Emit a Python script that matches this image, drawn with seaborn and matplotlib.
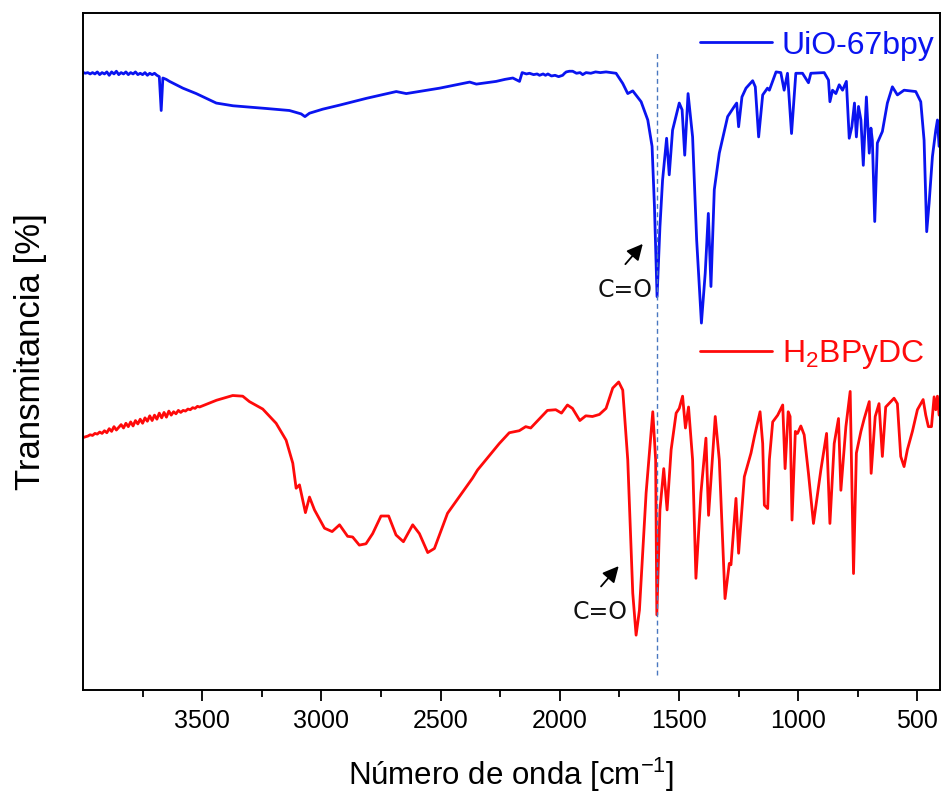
import matplotlib
matplotlib.use("Agg")
import matplotlib.pyplot as plt
import seaborn as sns
import pandas as pd

# FTIR spectra (wavenumber in cm-1, transmittance in arbitrary %)
uio_wn = [3998, 3990, 3980, 3970, 3960, 3950, 3940, 3930, 3920, 3910, 3900, 3890, 3880, 3870,
          3860, 3850, 3840, 3830, 3820, 3810, 3800, 3790, 3780, 3770, 3760, 3750, 3740, 3730,
          3720, 3710, 3700, 3690, 3680, 3672, 3665, 3651, 3637, 3581, 3525,
          3441, 3371, 3232, 3134, 3085, 3069, 3050, 2994, 2923, 2811, 2686, 2644, 2504, 2378,
          2350, 2267, 2230, 2197, 2175, 2169, 2158, 2140, 2127, 2110, 2095, 2085, 2070, 2060,
          2050, 2035, 2020, 2005, 1988, 1980, 1973, 1960, 1946, 1930, 1915, 1904, 1890, 1870,
          1850, 1830, 1806, 1785, 1764, 1736, 1715, 1694, 1659, 1631, 1613, 1603, 1592, 1580, 1569,
          1552, 1541, 1527, 1499, 1487, 1476, 1462, 1443, 1426, 1406, 1390, 1377, 1366, 1352,
          1331, 1296, 1268, 1258, 1250, 1236, 1219, 1191, 1180, 1166, 1149, 1129, 1121, 1093,
          1073, 1059, 1045, 1028, 1010, 982, 957, 947, 891, 873, 867, 856, 842, 828, 814, 798,
          786, 775, 764, 756, 747, 737, 727, 714, 702, 695, 689, 679, 668, 647, 626, 605, 584,
          556, 507, 486, 472, 461, 451, 437, 423, 416, 409]
uio_t = [91.2, 91.1, 91.2, 91.0, 91.2, 91.0, 91.3, 90.9, 91.2, 91.0, 91.3, 90.8, 91.3, 91.0,
         91.4, 90.9, 91.2, 91.0, 91.3, 90.9, 91.2, 91.0, 91.3, 90.9, 91.1, 90.9, 91.2, 90.8,
         91.1, 90.9, 91.1, 90.8, 90.6, 85.6, 90.4, 90.2, 89.9, 88.9, 88.1,
         86.7, 86.3, 85.9, 85.6, 85.1, 84.7, 85.2, 85.8, 86.4, 87.4, 88.4, 88.1, 88.9, 89.8,
         89.5, 89.9, 90.2, 90.4, 90.0, 89.9, 91.2, 91.0, 91.1, 90.9, 91.0, 90.8, 91.0, 90.8,
         91.0, 90.7, 90.8, 90.6, 90.8, 91.1, 91.3, 91.4, 91.4, 91.1, 91.2, 90.9, 91.2, 91.1,
         91.3, 91.2, 91.3, 91.2, 91.1, 89.6, 88.1, 88.5, 86.9, 84.2, 80.3, 71.4, 58.1, 68.4, 75.3,
         81.5, 76.1, 82.7, 86.7, 85.7, 79.0, 88.1, 81.7, 66.5, 54.2, 61.6, 70.4, 59.6, 73.9,
         79.3, 84.7, 86.2, 86.7, 83.2, 87.6, 88.9, 90.0, 89.1, 81.7, 87.9, 88.9, 88.6, 91.3,
         91.2, 88.6, 91.1, 82.2, 91.1, 91.1, 89.7, 91.1, 91.2, 90.1, 86.9, 88.6, 88.1, 89.4, 88.6, 89.9,
         81.5, 83.2, 86.7, 81.7, 86.2, 84.2, 77.5, 87.6, 79.3, 83.0, 81.2, 69.2, 80.8, 82.5, 86.7, 89.1, 87.9,
         88.6, 88.4, 86.9, 81.2, 67.7, 71.9, 78.8, 82.7, 84.2, 80.3]

h2_wn = [3998, 3990, 3980, 3970, 3960, 3950, 3940, 3930, 3920, 3910, 3900, 3890, 3880, 3870,
         3860, 3850, 3840, 3830, 3820, 3810, 3800, 3790, 3780, 3770, 3760, 3750, 3740, 3730,
         3720, 3710, 3700, 3690, 3680, 3670, 3660, 3650, 3640, 3630, 3620, 3610, 3600, 3590,
         3580, 3570, 3560, 3550, 3540, 3530, 3520, 3511, 3440, 3372, 3330, 3302,
         3246, 3190, 3148, 3120, 3106, 3092, 3067, 3050, 3029, 2987, 2955, 2924, 2890, 2869,
         2841, 2813, 2785, 2750, 2718, 2687, 2656, 2617, 2589, 2554, 2526, 2471, 2366, 2345,
         2254, 2212, 2170, 2143, 2122, 2052, 2017, 1993, 1968, 1947, 1916, 1891, 1863, 1834,
         1806, 1778, 1753, 1736, 1715, 1694, 1680, 1666, 1638, 1610, 1598, 1593, 1580, 1564,
         1550, 1533, 1512, 1499, 1485, 1473, 1460, 1443, 1429, 1408, 1387, 1376, 1348, 1331,
         1307, 1289, 1282, 1261, 1250, 1226, 1198, 1184, 1160, 1149, 1142, 1128, 1121, 1107,
         1086, 1065, 1055, 1042, 1034, 1026, 1012, 1003, 989, 975, 957, 936, 905, 881, 867,
         849, 831, 821, 800, 782, 768, 756, 737, 723, 702, 694, 677, 661, 647, 633, 598, 584,
         570, 556, 542, 521, 500, 476, 465, 454, 441, 430, 423, 416, 409]
h2_t = [37.3, 37.4, 37.5, 37.7, 37.6, 37.9, 37.8, 38.1, 37.9, 38.3, 38.0, 38.6, 38.2, 38.9,
        38.4, 38.8, 39.2, 38.7, 39.4, 38.9, 39.6, 39.0, 39.8, 39.3, 40.0, 39.4, 40.2, 39.7,
        40.5, 39.8, 40.6, 40.0, 40.9, 40.2, 41.0, 40.3, 41.2, 40.6, 41.1, 40.8, 41.3, 41.0,
        41.3, 41.2, 41.5, 41.4, 41.7, 41.6, 41.9, 41.8, 42.8, 43.5, 43.4, 42.6,
        41.5, 39.4, 36.9, 33.5, 29.8, 30.3, 26.2, 28.5, 26.6, 23.9, 23.4, 24.4, 22.7, 22.6,
        21.4, 21.6, 23.1, 25.7, 25.7, 22.9, 21.9, 24.4, 23.1, 20.3, 20.9, 26.1, 31.3, 32.5,
        36.4, 38.0, 38.3, 38.9, 38.7, 41.3, 41.4, 40.9, 42.1, 41.6, 39.8, 40.5, 40.4, 40.7,
        41.6, 44.6, 45.5, 44.3, 34.0, 14.3, 8.1, 11.8, 29.1, 41.1, 34.0, 11.1, 26.6, 32.7,
        26.6, 35.5, 40.9, 41.6, 43.4, 38.7, 41.8, 34.0, 16.5, 29.1, 37.2, 25.8, 40.4, 34.0,
        13.5, 18.7, 18.5, 28.3, 20.2, 31.5, 35.0, 37.4, 41.1, 36.4, 27.3, 26.8, 34.0, 39.6,
        40.6, 42.1, 32.7, 41.1, 40.4, 25.1, 38.2, 37.9, 39.0, 37.7, 32.0, 24.6, 32.5, 37.9, 24.6,
        36.4, 40.1, 29.5, 38.9, 44.1, 17.2, 35.0, 38.2, 40.1, 42.6, 32.0, 40.4, 42.3, 34.5, 41.8, 43.1, 42.3,
        34.5, 33.0, 35.5, 38.2, 41.4, 42.9, 40.6, 38.9, 38.9, 43.3, 41.4, 43.4, 40.6]

uio = pd.DataFrame({"wn": uio_wn, "T": uio_t})
h2 = pd.DataFrame({"wn": h2_wn, "T": h2_t})

sns.set_style("ticks")
plt.rcParams["font.family"] = ["Liberation Sans", "DejaVu Sans"]
plt.rcParams["mathtext.default"] = "regular"
plt.rcParams["text.color"] = "black"
plt.rcParams["axes.labelcolor"] = "black"
plt.rcParams["xtick.color"] = "black"

fig = plt.figure(figsize=(9.41, 7.94), dpi=100)
ax = fig.add_axes([0.0882, 0.131, 0.9108, 0.8526])

sns.lineplot(data=uio, x="wn", y="T", color="#0a14f0", lw=2.0, sort=False,
             estimator=None, ax=ax, label="UiO-67bpy")
sns.lineplot(data=h2, x="wn", y="T", color="#ff0a0a", lw=2.0, sort=False,
             estimator=None, ax=ax, label="H$_2$BPyDC")

ax.axvline(1592, ymin=0.022, ymax=0.941, color="#4a78c0", lw=1, ls=(0, (3.5, 2.5)))

# C=O arrows
for head, tail, txt in [((1652, 65.9), (1725, 62.9), (1725, 59.1)),
                        ((1753, 18.3), (1827, 15.3), (1830, 11.5))]:
    ax.annotate("", xy=head, xytext=tail,
                arrowprops=dict(arrowstyle="-|>", color="k", lw=1.3, mutation_scale=24,
                                shrinkA=0, shrinkB=0))
    ax.text(txt[0], txt[1], "C=O", ha="center", va="center", fontsize=17,
            family="DejaVu Sans", color="#111111")

ax.set_xlim(4000, 405)
ax.set_ylim(0, 100)
ax.set_xticks([3500, 3000, 2500, 2000, 1500, 1000, 500])
ax.set_xticks([3750, 3250, 2750, 2250, 1750, 1250, 750], minor=True)
ax.set_yticks([])
ax.tick_params(axis="x", which="major", direction="out", length=8, width=1.3,
               labelsize=18, pad=6, colors="black")
ax.tick_params(axis="x", which="minor", direction="out", length=5, width=1.3, colors="black")
for s in ax.spines.values():
    s.set_linewidth(1.4)
    s.set_color("black")

ax.set_xlabel("Número de onda [cm$^{-1}$]", fontsize=22.5, labelpad=16)
ax.set_ylabel("Transmitancia [%]", fontsize=25, labelpad=26)

handles, labels = ax.get_legend_handles_labels()
leg1 = ax.legend([handles[0]], [labels[0]], loc="center left", bbox_to_anchor=(0.72, 0.952),
                 frameon=False, fontsize=23, handlelength=2.25, handletextpad=0.3,
                 borderpad=0, borderaxespad=0, labelcolor="linecolor")
ax.add_artist(leg1)
ax.legend([handles[1]], [labels[1]], loc="center left", bbox_to_anchor=(0.72, 0.495),
          frameon=False, fontsize=23, handlelength=2.25, handletextpad=0.3,
          borderpad=0, borderaxespad=0, labelcolor="linecolor")

fig.savefig("out.png", dpi=100)
